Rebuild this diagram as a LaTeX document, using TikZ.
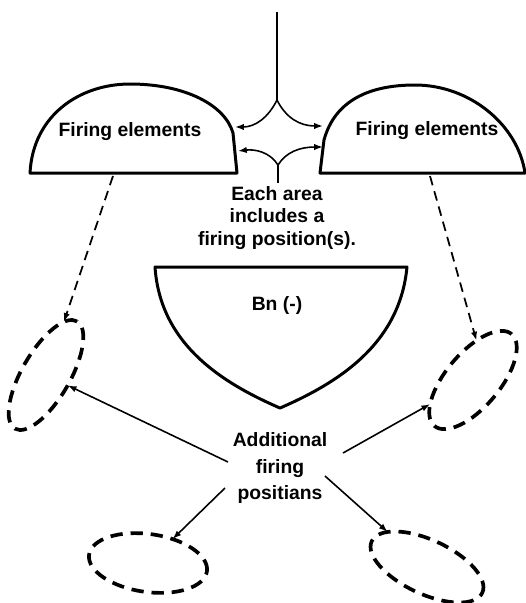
\documentclass[tikz,border=0pt]{standalone}
\usepackage{fontspec}
\setmainfont{Liberation Sans}
\usetikzlibrary{arrows.meta, shapes.geometric}

\begin{document}
\begin{tikzpicture}[x=0.02cm, y=-0.02cm,
  area/.style={draw, line width=1.7pt, line join=round},
  lbl/.style={font=\fontsize{11}{13}\selectfont\bfseries, align=center,
              inner sep=1pt},
  firepos/.style={ellipse, draw, line width=2.1pt, dash pattern=on 7pt off 4.5pt,
              inner sep=0pt, outer sep=0pt},
  arr/.style={-{Latex[length=5pt,width=3.6pt]}, line width=0.9pt},
  darr/.style={-{Latex[length=5pt,width=3.6pt]}, line width=1pt,
               dash pattern=on 5.5pt off 3.5pt},
]
\useasboundingbox (0,0) rectangle (526,603);

% Firing element areas
\draw[area] (30,173) .. controls (33,115) and (80,84) .. (130,84)
  .. controls (185,84) and (225,105) .. (233,133) -- (237,173) -- cycle;
\draw[area] (320,173) -- (324,140) .. controls (335,100) and (370,85) .. (415,85)
  .. controls (470,85) and (518,125) .. (525,173) -- cycle;
\node[lbl] (feL) at (130,132) {Firing elements};
\node[lbl] (feR) at (427,131) {Firing elements};

% Bn area
\draw[area] (155,267) -- (407,267) .. controls (400,340) and (345,380) .. (280,408)
  .. controls (215,380) and (160,340) .. (155,267) -- cycle;
\node[lbl] (bn) at (277,305) {Bn (-)};

% Boundary between the firing areas
\coordinate (stem) at (277,12);
\coordinate (forkU) at (277,100);
\coordinate (forkL) at (278,165);
\coordinate (stub) at (278,183);
\coordinate (eL1) at (235,127);
\coordinate (eR1) at (323,126);
\coordinate (eL2) at (238,151);
\coordinate (eR2) at (323,147);
\draw[line width=0.9pt] (stem) -- (forkU);
\draw[line width=0.9pt] (stub) -- (forkL);
\draw[arr] (forkU) .. controls (268,118) and (255,127) .. (eL1);
\draw[arr] (forkU) .. controls (286,118) and (300,126) .. (eR1);
\draw[arr] (forkL) .. controls (270,152) and (255,149) .. (eL2);
\draw[arr] (forkL) .. controls (286,152) and (300,147) .. (eR2);

\node[lbl, font=\fontsize{11}{13}\selectfont\bfseries] (note) at (277,218)
  {Each area\\includes a\\firing position(s).};

% Additional firing positions
\node[firepos, minimum width=2.48cm, minimum height=0.96cm, rotate=60] (ell1) at (46,375) {};
\node[firepos, minimum width=2.4cm, minimum height=1.08cm, rotate=50] (ell2) at (473,380) {};
\node[firepos, minimum width=2.38cm, minimum height=1.16cm, rotate=-8] (ell3) at (148,563) {};
\node[firepos, minimum width=2.44cm, minimum height=1.08cm, rotate=-25] (ell4) at (427,567) {};

\node[lbl, font=\fontsize{11}{15.3}\selectfont\bfseries] (addl) at (280,468)
  {Additional\\firing\\positians};

\coordinate (bL) at (113,176);
\coordinate (bR) at (430,176);
\draw[darr] (bL) -- (ell1);
\draw[darr] (bR) -- (ell2.35);

\coordinate (s1) at (228,462);
\coordinate (s2) at (343,453);
\coordinate (s3) at (225,488);
\coordinate (s4) at (325,476);
\draw[arr] (s1) -- (ell1);
\draw[arr] (s2) -- (ell2);
\draw[arr] (s3) -- (ell3);
\draw[arr] (s4) -- (ell4);
\end{tikzpicture}
\end{document}
